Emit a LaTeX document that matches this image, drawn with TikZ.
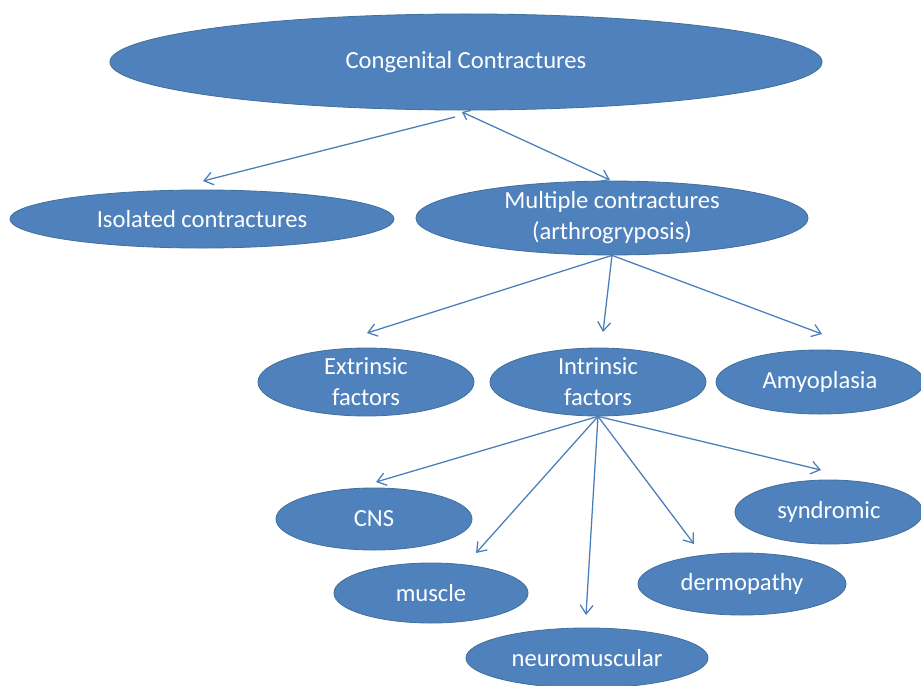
\documentclass[tikz,border=0pt]{standalone}
\usepackage{fontspec}
\setmainfont{Carlito}
\usetikzlibrary{shapes.geometric,arrows.meta}
\definecolor{ovalblue}{HTML}{4F81BD}
\definecolor{ovaledge}{HTML}{41719C}
\definecolor{linkblue}{HTML}{4A7EBB}
\begin{document}
\begin{tikzpicture}[x=0.025cm, y=-0.025cm,
    ovalstyle/.style={ellipse, draw=ovaledge, fill=ovalblue, line width=0.6pt, inner sep=0pt, text=white, align=center, font=\fontsize{17.5}{22}\selectfont},
    arrowstyle/.style={-{Straight Barb[length=2.2mm,width=3.2mm]}, draw=linkblue, line width=0.9pt}
]
    \useasboundingbox (0,0) rectangle (921,685);

    \node[ovalstyle, minimum width=17.8cm, minimum height=2.4cm] (cong) at (466,62) {Congenital Contractures};
    \node[ovalstyle, minimum width=9.6cm, minimum height=1.45cm] (iso) at (202,219) {Isolated contractures};
    \node[ovalstyle, minimum width=9.8cm, minimum height=1.6cm] (mult) at (612,218) {Multiple contractures\\(arthrogryposis)};
    \node[ovalstyle, minimum width=5.4cm, minimum height=1.6cm] (extr) at (366,382) {Extrinsic\\factors};
    \node[ovalstyle, minimum width=5.4cm, minimum height=1.6cm] (intr) at (598,382) {Intrinsic\\factors};
    \node[ovalstyle, minimum width=5.2cm, minimum height=1.6cm] (amyo) at (820,382) {Amyoplasia};
    \node[ovalstyle, minimum width=4.9cm, minimum height=1.55cm] (cns) at (374,519) {CNS};
    \node[ovalstyle, minimum width=4.85cm, minimum height=1.5cm] (musc) at (431,593) {muscle};
    \node[ovalstyle, minimum width=6.05cm, minimum height=1.5cm] (neuro) at (587,658) {neuromuscular};
    \node[ovalstyle, minimum width=5.2cm, minimum height=1.55cm] (derm) at (742,584) {dermopathy};
    \node[ovalstyle, minimum width=4.7cm, minimum height=1.6cm] (synd) at (829,512) {syndromic};

    % free ends of the arrows
    \coordinate (cong-l) at (455,117);
    \coordinate (cong-r) at (462,112);
    \coordinate (iso-in) at (203,181);
    \coordinate (mult-in) at (610,180);
    \coordinate (extr-in) at (367,333);
    \coordinate (intr-in) at (603,332);
    \coordinate (amyo-in) at (822,334);
    \coordinate (cns-in) at (376,482);
    \coordinate (musc-in) at (476,553);
    \coordinate (neuro-in) at (586,615);
    \coordinate (derm-in) at (694,544);
    \coordinate (synd-in) at (821,470);

    \draw[arrowstyle] (cong-l) -- (iso-in);
    \draw[arrowstyle, {Straight Barb[length=1.6mm,width=2.6mm]}-{Straight Barb[length=2.2mm,width=3.2mm]}] (cong-r) -- (mult-in);
    \draw[arrowstyle] (mult.south) -- (extr-in);
    \draw[arrowstyle] (mult.south) -- (intr-in);
    \draw[arrowstyle] (mult.south) -- (amyo-in);
    \draw[arrowstyle] (intr.south) -- (cns-in);
    \draw[arrowstyle] (intr.south) -- (musc-in);
    \draw[arrowstyle] (intr.south) -- (neuro-in);
    \draw[arrowstyle] (intr.south) -- (derm-in);
    \draw[arrowstyle] (intr.south) -- (synd-in);
\end{tikzpicture}
\end{document}
